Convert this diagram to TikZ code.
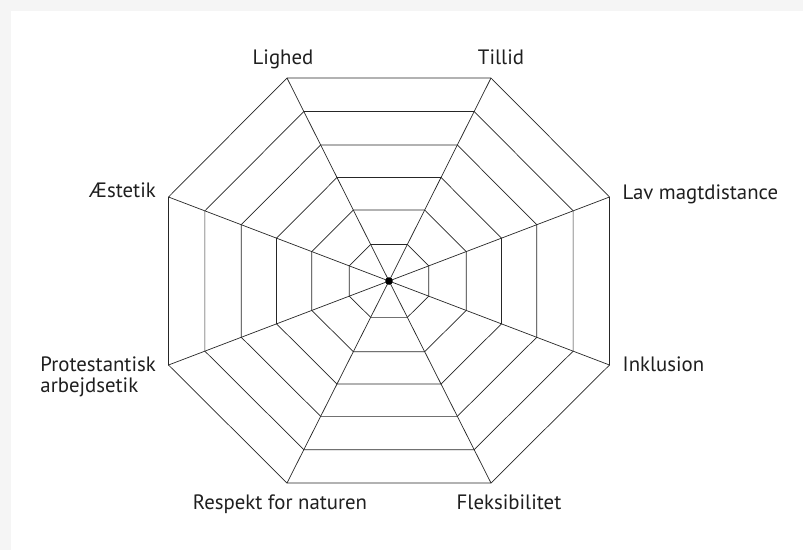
\documentclass[tikz,border=0pt]{standalone}
\usepackage{fontspec}
\setmainfont{PT Sans}
\usetikzlibrary{calc}

\begin{document}
\begin{tikzpicture}[x=1pt,y=-1pt]
  % Colors
  \colorlet{webcolor}{black!85}
  \colorlet{labelcolor}{black!88}
  \colorlet{shadowcolor}{black!4}

  % Styles
  \tikzstyle{web line}=[webcolor,line width=0.7pt,line join=miter]
  \tikzstyle{axis label}=[font=\fontsize{20.8}{21}\selectfont,text=labelcolor,inner sep=0pt]

  % Background card
  \fill[shadowcolor] (0,0) rectangle (803,550);
  \fill[white] (11,11) rectangle (803,550);
  \useasboundingbox (0,0) rectangle (803,550);

  % Centre and outer corners of the web
  \coordinate (c) at (389,281);
  \foreach \name/\dx/\dy in {tillid/102/-203, lav/220.5/-84, inkl/220.5/84,
      fleks/102/202, respekt/-102/202, prot/-220.5/84, aest/-220.5/-84,
      lighed/-102/-203}
    \coordinate (\name) at ($(c)+(\dx,\dy)$);

  % The rings
  \foreach \r in {1,.835,.67,.51,.35,.18}
    \draw[style=web line] ($(c)!\r!(tillid)$) -- ($(c)!\r!(lav)$)
      -- ($(c)!\r!(inkl)$) -- ($(c)!\r!(fleks)$) -- ($(c)!\r!(respekt)$)
      -- ($(c)!\r!(prot)$) -- ($(c)!\r!(aest)$) -- ($(c)!\r!(lighed)$) -- cycle;

  % The spokes
  \foreach \name in {tillid,lav,inkl,fleks,respekt,prot,aest,lighed}
    \draw[style=web line] (c) -- (\name);

  \fill[black] (c) circle (3.8pt);

  % Labels
  \node[axis label,anchor=base] (lighed label) at (283,64.5) {Lighed};
  \node[axis label,anchor=base] (tillid label) at (501,64.5) {Tillid};
  \node[axis label,anchor=base west] (lav label) at (622.5,199.3) {Lav magtdistance};
  \node[axis label,anchor=base west] (inkl label) at (622.5,371.7) {Inklusion};
  \node[axis label,anchor=base] (fleks label) at (509,509.3) {Fleksibilitet};
  \node[axis label,anchor=base] (respekt label) at (280,509.3) {Respekt for naturen};
  \node[axis label,anchor=east,align=left] (prot label) at (156,376.5)
    {Protestantisk\\arbejdsetik};
  \node[axis label,anchor=base east] (aest label) at (156,197.3) {Æstetik};
\end{tikzpicture}
\end{document}
